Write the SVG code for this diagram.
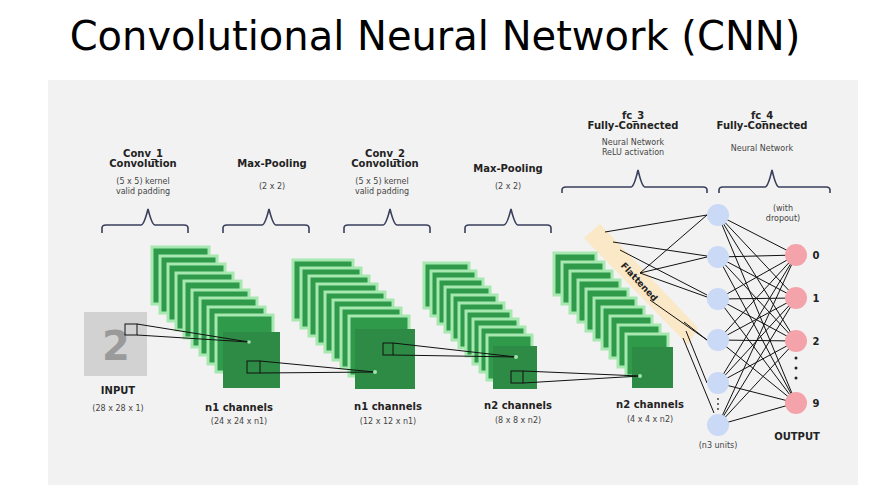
<svg xmlns="http://www.w3.org/2000/svg" width="880" height="495" viewBox="0 0 880 495">
<style>
.t{font-family:"DejaVu Sans",sans-serif;fill:#222;text-anchor:middle}
.b{font-weight:bold;font-size:10px}
.s{font-size:8px;fill:#444}
.br{fill:none;stroke:#3a3f5c;stroke-width:1.6}
.ly{fill:#2f9a4a;stroke:#a6e8b0;stroke-width:3}
.fr{fill:#2e8b45}
.ln{stroke:#111;stroke-width:1;fill:none}
.h{fill:#c9d9f6}
.o{fill:#f4a3aa}
</style>
<rect width="880" height="495" fill="#fff"/>
<rect x="48" y="80" width="810" height="405" fill="#f2f2f2"/>
<text x="435" y="50" class="t" style="font-size:40px;fill:#000">Convolutional Neural Network (CNN)</text>

<g id="braces">
<path class="br" d="M102,233 V228 Q102,225 106,225 H141 Q144,225 148,209 Q152,225 155,225 H184 Q188,225 188,228 V233"/>
<path class="br" d="M223,233 V228 Q223,225 227,225 H262 Q265,225 269,209 Q273,225 276,225 H305 Q309,225 309,228 V233"/>
<path class="br" d="M344,233 V228 Q344,225 348,225 H383 Q386,225 390,209 Q394,225 397,225 H426 Q430,225 430,228 V233"/>
<path class="br" d="M465,233 V228 Q465,225 469,225 H504 Q507,225 511,209 Q515,225 518,225 H547 Q551,225 551,228 V233"/>
<path class="br" d="M562,193 V190 Q562,187 566,187 H631 Q634,187 638,170 Q642,187 645,187 H703 Q707,187 707,190 V193"/>
<path class="br" d="M719,193 V190 Q719,187 723,187 H765 Q768,187 772,170 Q776,187 779,187 H826 Q830,187 830,190 V193"/>
</g>

<g id="labels">
<text class="t b" x="143" y="157">Conv_1</text><text class="t b" x="143" y="167">Convolution</text>
<text class="t s" x="143" y="184">(5 x 5) kernel</text><text class="t s" x="143" y="194">valid padding</text>
<text class="t b" x="272" y="167">Max-Pooling</text><text class="t s" x="272" y="189">(2 x 2)</text>
<text class="t b" x="385" y="157">Conv_2</text><text class="t b" x="385" y="167">Convolution</text>
<text class="t s" x="382" y="184">(5 x 5) kernel</text><text class="t s" x="382" y="194">valid padding</text>
<text class="t b" x="508" y="172">Max-Pooling</text><text class="t s" x="508" y="189">(2 x 2)</text>
<text class="t b" x="633" y="119">fc_3</text><text class="t b" x="633" y="129">Fully-Connected</text>
<text class="t s" x="633" y="145">Neural Network</text><text class="t s" x="633" y="155">ReLU activation</text>
<text class="t b" x="762" y="119">fc_4</text><text class="t b" x="762" y="129">Fully-Connected</text>
<text class="t s" x="762" y="151">Neural Network</text>
<text class="t s" x="783" y="211">(with</text><text class="t s" x="783" y="221">dropout)</text>
<text class="t b" x="118" y="394">INPUT</text><text class="t s" x="118" y="411">(28 x 28 x 1)</text>
<text class="t b" x="239" y="411">n1 channels</text><text class="t s" x="239" y="424">(24 x 24 x n1)</text>
<text class="t b" x="388" y="410">n1 channels</text><text class="t s" x="388" y="424">(12 x 12 x n1)</text>
<text class="t b" x="518" y="409">n2 channels</text><text class="t s" x="518" y="423">(8 x 8 x n2)</text>
<text class="t b" x="650" y="408">n2 channels</text><text class="t s" x="650" y="422">(4 x 4 x n2)</text>
<text class="t s" x="718" y="448">(n3 units)</text>
<text class="t b" x="797" y="440">OUTPUT</text>
</g>

<g id="input">
<rect x="84" y="312" width="63" height="64" fill="#d2d2d2"/>
<text class="t" x="116" y="360" style="font-size:40px;font-weight:bold;fill:#9a9a9a">2</text>
</g>

<g id="stack1">
<rect class="ly" x="152" y="247" width="57" height="57"/><rect class="ly" x="160" y="256" width="57" height="57"/>
<rect class="ly" x="168" y="264" width="57" height="57"/><rect class="ly" x="176" y="273" width="57" height="57"/>
<rect class="ly" x="184" y="281" width="57" height="57"/><rect class="ly" x="192" y="290" width="57" height="57"/>
<rect class="ly" x="200" y="298" width="57" height="57"/><rect class="ly" x="208" y="307" width="57" height="57"/>
<rect class="ly" x="216" y="315" width="57" height="57"/>
<rect class="fr" x="223" y="332" width="57" height="56"/>
</g>
<g id="stack2">
<rect class="ly" x="293" y="260" width="60" height="60"/><rect class="ly" x="301" y="268" width="60" height="60"/>
<rect class="ly" x="309" y="276" width="60" height="60"/><rect class="ly" x="317" y="284" width="60" height="60"/>
<rect class="ly" x="325" y="292" width="60" height="60"/><rect class="ly" x="333" y="300" width="60" height="60"/>
<rect class="ly" x="341" y="308" width="60" height="60"/><rect class="ly" x="349" y="316" width="60" height="60"/>
<rect class="fr" x="355" y="329" width="60" height="60"/>
</g>
<g id="stack3">
<rect class="ly" x="424" y="263" width="45" height="45"/><rect class="ly" x="431" y="271" width="45" height="45"/>
<rect class="ly" x="438" y="279" width="45" height="45"/><rect class="ly" x="445" y="287" width="45" height="45"/>
<rect class="ly" x="452" y="295" width="45" height="45"/><rect class="ly" x="459" y="303" width="45" height="45"/>
<rect class="ly" x="466" y="311" width="45" height="45"/><rect class="ly" x="473" y="319" width="45" height="45"/>
<rect class="ly" x="480" y="327" width="45" height="45"/><rect class="ly" x="487" y="335" width="45" height="45"/>
<rect class="fr" x="493" y="346" width="44" height="43"/>
</g>
<g id="flattened">
<polygon points="584,238 600,224 698,328 688,345" fill="#fbe8c6"/>
<text class="t" x="0" y="0" style="font-size:9px;font-weight:bold" transform="translate(637,284) rotate(47)">Flattened</text>
</g>
<g id="stack4">
<rect class="ly" x="554" y="253" width="42" height="42"/><rect class="ly" x="562" y="262" width="42" height="42"/>
<rect class="ly" x="570" y="271" width="42" height="42"/><rect class="ly" x="578" y="280" width="42" height="42"/>
<rect class="ly" x="586" y="289" width="42" height="42"/><rect class="ly" x="594" y="298" width="42" height="42"/>
<rect class="ly" x="602" y="307" width="42" height="42"/><rect class="ly" x="610" y="316" width="42" height="42"/>
<rect class="ly" x="618" y="325" width="42" height="42"/><rect class="ly" x="626" y="334" width="42" height="42"/>
<rect class="fr" x="632" y="347" width="41" height="41"/>
</g>

<g id="connectors">
<rect class="ln" x="125" y="324" width="12" height="11"/>
<path class="ln" d="M137,324 L249,342 M137,335 L249,342"/>
<rect class="ln" x="247" y="361" width="13" height="12"/>
<path class="ln" d="M260,361 L375,372 M260,373 L375,372"/>
<rect class="ln" x="383" y="343" width="10" height="12"/>
<path class="ln" d="M393,343 L516,357 M393,355 L516,357"/>
<rect class="ln" x="511" y="371" width="12" height="12"/>
<path class="ln" d="M523,371 L640,376 M523,383 L640,376"/>
<circle cx="249" cy="342" r="1.8" fill="#9fe4ab"/><circle cx="375" cy="372" r="2" fill="#9fe4ab"/>
<circle cx="516" cy="357" r="2" fill="#9fe4ab"/><circle cx="640" cy="376" r="2" fill="#9fe4ab"/>
<path class="ln" d="M605,232 L707,215 M613,242 L707,256 M620,250 L707,295 M640,273 L707,215 M640,273 L707,257 M640,273 L707,297 M686,331 L707,383 M683,338 L714,413 M684,322 L707,340 M650,300 L707,340"/>
<path class="ln" d="M718,215 L796,255 M718,215 L796,298 M718,215 L796,341 M718,215 L796,403 M718,257 L796,255 M718,257 L796,298 M718,257 L796,341 M718,257 L796,403 M718,299 L796,255 M718,299 L796,298 M718,299 L796,341 M718,299 L796,403 M718,340 L796,255 M718,340 L796,298 M718,340 L796,341 M718,340 L796,403 M718,383 L796,255 M718,383 L796,298 M718,383 L796,341 M718,383 L796,403 M718,425 L796,255 M718,425 L796,298 M718,425 L796,341 M718,425 L796,403"/>
</g>

<g id="hidden">
<circle class="h" cx="718" cy="215" r="11"/><circle class="h" cx="718" cy="257" r="11"/>
<circle class="h" cx="718" cy="299" r="11"/><circle class="h" cx="718" cy="340" r="11"/>
<circle class="h" cx="718" cy="383" r="11"/><circle class="h" cx="718" cy="425" r="11"/>
<circle cx="718" cy="399" r="0.9" fill="#333"/><circle cx="718" cy="404" r="0.9" fill="#333"/><circle cx="718" cy="409" r="0.9" fill="#333"/>
</g>
<g id="output">
<circle class="o" cx="796" cy="255" r="11"/><circle class="o" cx="796" cy="298" r="11"/>
<circle class="o" cx="796" cy="341" r="11"/><circle class="o" cx="796" cy="403" r="11"/>
<circle cx="796" cy="358" r="1.5" fill="#222"/><circle cx="796" cy="368" r="1.5" fill="#222"/><circle cx="796" cy="378" r="1.5" fill="#222"/>
<text class="t b" x="816" y="259">0</text><text class="t b" x="816" y="302">1</text>
<text class="t b" x="816" y="345">2</text><text class="t b" x="816" y="407">9</text>
</g>
</svg>
